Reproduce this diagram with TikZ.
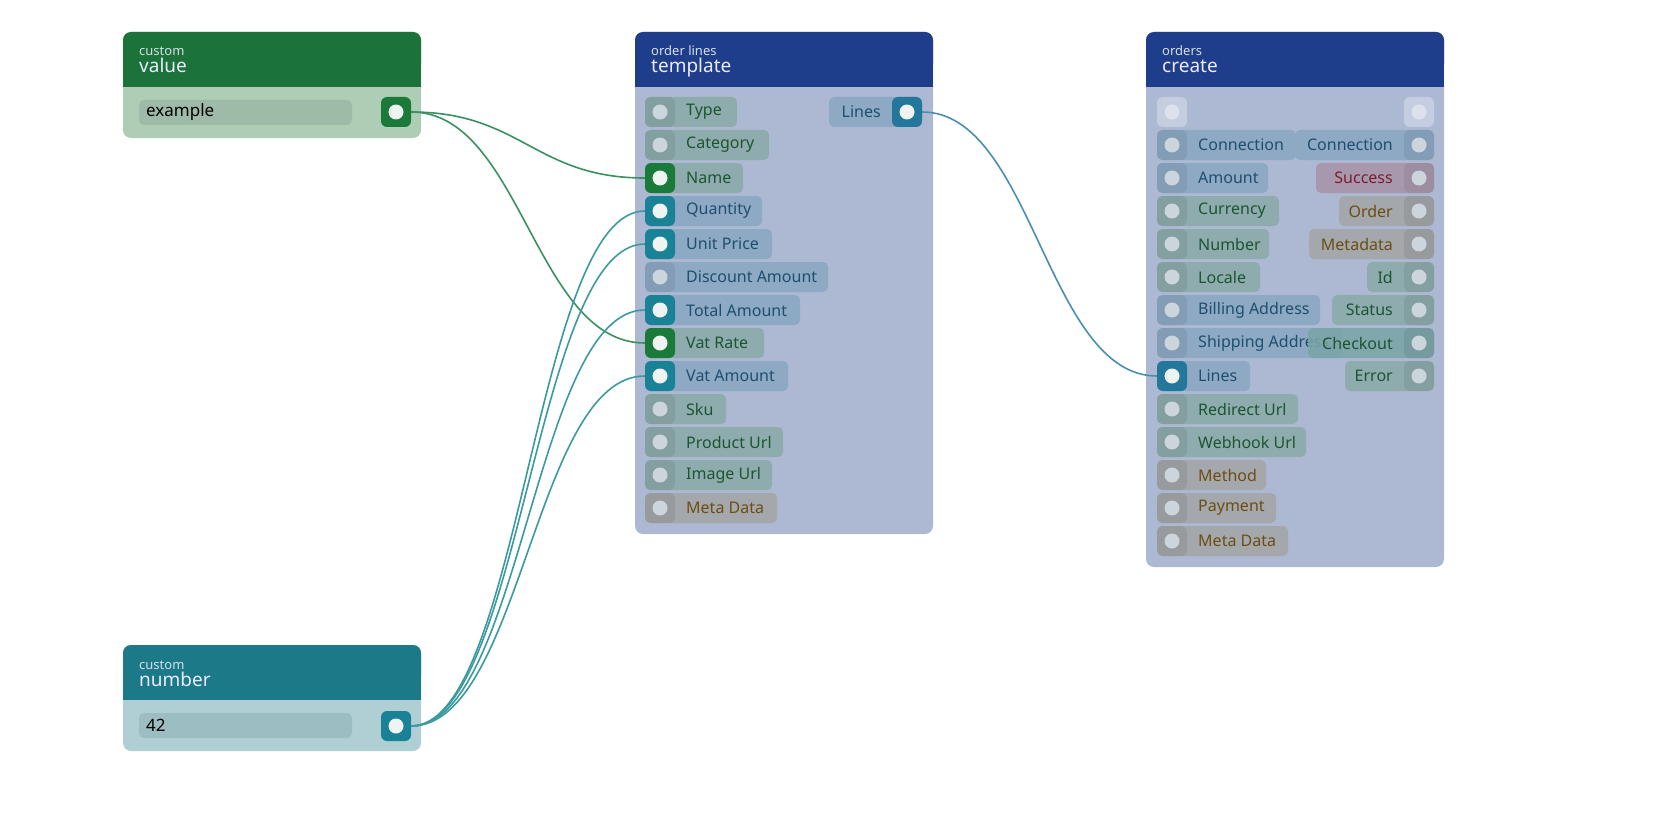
\documentclass[tikz,border=0pt]{standalone}
\usepackage{fontspec}
\setmainfont{Noto Sans}
\begin{document}
\definecolor{hdG}{HTML}{1B7339}\definecolor{bdG}{HTML}{ADCDB5}\definecolor{fdG}{HTML}{9DBBA8}
\definecolor{hdT}{HTML}{1C7A88}\definecolor{bdT}{HTML}{AFCFD4}\definecolor{fdT}{HTML}{9CBDC2}
\definecolor{hdB}{HTML}{1E3D8A}\definecolor{bdB}{HTML}{ADB8D3}
\definecolor{pB}{HTML}{8DA9C4}\definecolor{tB}{HTML}{1F4F6E}
\definecolor{pG}{HTML}{8EACAD}\definecolor{tG}{HTML}{1C5530}
\definecolor{pN}{HTML}{A4A7AB}\definecolor{tN}{HTML}{6B4E12}
\definecolor{pR}{HTML}{A898AE}\definecolor{tR}{HTML}{7A1F2E}
\definecolor{aG}{HTML}{1A7A3A}\definecolor{aT}{HTML}{1A8296}\definecolor{aB}{HTML}{23779A}
\definecolor{dI}{HTML}{CDD5DC}\definecolor{dA}{HTML}{EEF4F2}
\definecolor{hsub}{HTML}{D5DEEA}\definecolor{dT}{HTML}{DDE1EC}
\definecolor{wG}{HTML}{3A9160}\definecolor{wT}{HTML}{3A9AA0}\definecolor{wB}{HTML}{4A8FB0}
\begin{tikzpicture}[x=1pt,y=-1pt,
  port/.style={rectangle,rounded corners=6pt,minimum size=30pt,inner sep=0pt},
  lab/.style={font=\fontsize{16}{18}\selectfont,inner sep=0pt},
  inact/.style={fill=black,fill opacity=.07},
  wire/.style={line width=1.6pt}]
\useasboundingbox (0,0) rectangle (1680,840);
\newcommand\LP[9]{%
 \fill[#5,rounded corners=5pt] (#2,#3-15) rectangle (#4,#3+15);
 \node[port,#8] (#1) at (#2+15,#3) {};
 \fill[#9] (#1.center) circle (7.5);
 \node[lab,anchor=west,text=#6] at (#2+41,#3) {#7};}
\newcommand\RP[9]{%
 \fill[#5,rounded corners=5pt] (#2,#3-15) rectangle (#4,#3+15);
 \node[port,#8] (#1) at (#4-15,#3) {};
 \fill[#9] (#1.center) circle (7.5);
 \node[lab,anchor=east,text=#6] at (#4-41,#3) {#7};}
\newcommand\HDR[7]{% x0 y0 y1 header body title sub
 \fill[#5,rounded corners=8pt] (#1,#2) rectangle (#1+298,#3);
 \fill[#4,rounded corners=8pt] (#1,#2) rectangle (#1+298,#2+40);
 \fill[#4] (#1,#2+20) rectangle (#1+298,#2+55);
 \node[anchor=base west,inner sep=0pt,text=hsub,font=\fontsize{13}{13}\selectfont] at (#1+16,#2+24) {#7};
 \node[anchor=base west,inner sep=0pt,text=white!92!blue,font=\fontsize{19}{19}\selectfont] at (#1+16,#2+41) {#6};}
% custom value
\HDR{123}{32}{138}{hdG}{bdG}{value}{custom}
\fill[fdG,rounded corners=5pt] (139,100) rectangle (352,125);
\node[lab,anchor=west,font=\fontsize{17}{18}\selectfont] (vtxt) at (146,112.5) {example};
\node[port,fill=aG] (vout) at (396,112) {}; \fill[dA] (vout.center) circle (7.5);
% custom number
\HDR{123}{645}{751}{hdT}{bdT}{number}{custom}
\fill[fdT,rounded corners=5pt] (139,713) rectangle (352,738);
\node[lab,anchor=west,font=\fontsize{17}{18}\selectfont] (ntxt) at (146,725.5) {42};
\node[port,fill=aT] (nout) at (396,726) {}; \fill[dA] (nout.center) circle (7.5);
% template
\HDR{635}{32}{534}{hdB}{bdB}{template}{order lines}
\LP{tType}{645}{112}{737}{pG}{tG}{Type}{inact}{dI}
\LP{tCat}{645}{145}{769}{pG}{tG}{Category}{inact}{dI}
\LP{tName}{645}{178}{743}{pG}{tG}{Name}{fill=aG}{dA}
\LP{tQty}{645}{211}{762}{pB}{tB}{Quantity}{fill=aT}{dA}
\LP{tUP}{645}{244}{772}{pB}{tB}{Unit Price}{fill=aT}{dA}
\LP{tDA}{645}{277}{828}{pB}{tB}{Discount Amount}{inact}{dI}
\LP{tTA}{645}{310}{800}{pB}{tB}{Total Amount}{fill=aT}{dA}
\LP{tVR}{645}{343}{764}{pG}{tG}{Vat Rate}{fill=aG}{dA}
\LP{tVA}{645}{376}{788}{pB}{tB}{Vat Amount}{fill=aT}{dA}
\LP{tSku}{645}{409}{726}{pG}{tG}{Sku}{inact}{dI}
\LP{tPU}{645}{442}{783}{pG}{tG}{Product Url}{inact}{dI}
\LP{tIU}{645}{475}{772}{pG}{tG}{Image Url}{inact}{dI}
\LP{tMD}{645}{508}{777}{pN}{tN}{Meta Data}{inact}{dI}
\RP{tLines}{829}{112}{922}{pB}{tB}{Lines}{fill=aB}{dA}
% orders create
\HDR{1146}{32}{567}{hdB}{bdB}{create}{orders}
\node[port,fill=white,fill opacity=.3] (oInTop) at (1172,112) {}; \fill[dT] (oInTop.center) circle (7.5);
\node[port,fill=white,fill opacity=.3] (oOutTop) at (1419,112) {}; \fill[dT] (oOutTop.center) circle (7.5);
\LP{oConn}{1157}{145}{1296}{pB}{tB}{Connection}{inact}{dI}
\LP{oAmt}{1157}{178}{1268}{pB}{tB}{Amount}{inact}{dI}
\LP{oCur}{1157}{211}{1279}{pG}{tG}{Currency}{inact}{dI}
\LP{oNum}{1157}{244}{1269}{pG}{tG}{Number}{inact}{dI}
\LP{oLoc}{1157}{277}{1260}{pG}{tG}{Locale}{inact}{dI}
\LP{oBill}{1157}{310}{1320}{pB}{tB}{Billing Address}{inact}{dI}
\LP{oShip}{1157}{343}{1342}{pB}{tB}{Shipping Address}{inact}{dI}
\LP{oLines}{1157}{376}{1250}{pB}{tB}{Lines}{fill=aB}{dA}
\LP{oRed}{1157}{409}{1298}{pG}{tG}{Redirect Url}{inact}{dI}
\LP{oWeb}{1157}{442}{1306}{pG}{tG}{Webhook Url}{inact}{dI}
\LP{oMeth}{1157}{475}{1266}{pN}{tN}{Method}{inact}{dI}
\LP{oPay}{1157}{508}{1276}{pN}{tN}{Payment}{inact}{dI}
\LP{oMD}{1157}{541}{1288}{pN}{tN}{Meta Data}{inact}{dI}
\RP{oConnO}{1295}{145}{1434}{pB}{tB}{Connection}{inact}{dI}
\RP{oSucc}{1316}{178}{1434}{pR}{tR}{Success}{inact}{dI}
\RP{oOrd}{1339}{211}{1434}{pN}{tN}{Order}{inact}{dI}
\RP{oMeta}{1309}{244}{1434}{pN}{tN}{Metadata}{inact}{dI}
\RP{oId}{1367}{277}{1434}{pG}{tG}{Id}{inact}{dI}
\RP{oStat}{1332}{310}{1434}{pG}{tG}{Status}{inact}{dI}
\RP{oChk}{1308}{343}{1434}{pG!85!teal,fill opacity=.85}{tG}{Checkout}{inact}{dI}
\RP{oErr}{1345}{376}{1434}{pG}{tG}{Error}{inact}{dI}
% wires
\draw[wire,wG] (vout.east) .. controls +(110,0) and +(-110,0) .. (tName.west);
\draw[wire,wG] (vout.east) .. controls +(110,0) and +(-110,0) .. (tVR.west);
\draw[wire,wT] (nout.east) .. controls +(110,0) and +(-110,0) .. (tQty.west);
\draw[wire,wT] (nout.east) .. controls +(110,0) and +(-110,0) .. (tUP.west);
\draw[wire,wT] (nout.east) .. controls +(110,0) and +(-110,0) .. (tTA.west);
\draw[wire,wT] (nout.east) .. controls +(110,0) and +(-110,0) .. (tVA.west);
\draw[wire,wB] (tLines.east) .. controls +(110,0) and +(-110,0) .. (oLines.west);
\end{tikzpicture}
\end{document}
